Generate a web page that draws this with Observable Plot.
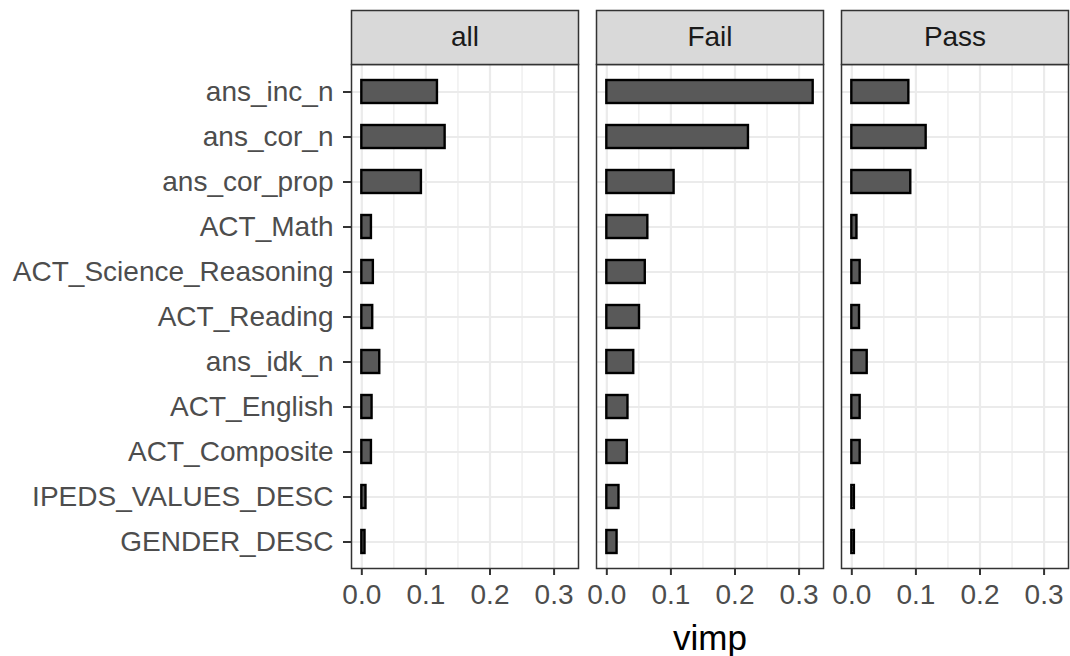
<!DOCTYPE html>
<html>
<head>
<meta charset="utf-8">
<script src="https://cdn.jsdelivr.net/npm/d3@7"></script>
<script src="https://cdn.jsdelivr.net/npm/@observablehq/plot@0.6"></script>
<style>
  html, body { margin: 0; padding: 0; background: #fff; }
  #chart { width: 1070px; height: 656px; }
  svg { font-family: "Liberation Sans", Arial, Helvetica, sans-serif; }
</style>
</head>
<body>
<div id="chart"></div>
<script>
// Data
const features = ["ans_inc_n", "ans_cor_n", "ans_cor_prop", "ACT_Math", "ACT_Science_Reasoning",
  "ACT_Reading", "ans_idk_n", "ACT_English", "ACT_Composite", "IPEDS_VALUES_DESC", "GENDER_DESC"];
const groups = ["all", "Fail", "Pass"];
const vimpAll  = [0.118, 0.130, 0.093, 0.015, 0.018, 0.017, 0.028, 0.016, 0.015, 0.0065, 0.005];
const vimpFail = [0.322, 0.221, 0.105, 0.064, 0.060, 0.051, 0.042, 0.033, 0.032, 0.019, 0.016];
const vimpPass = [0.089, 0.116, 0.092, 0.008, 0.013, 0.012, 0.024, 0.013, 0.013, 0.004, 0.004];
const xTicks = [0, 0.1, 0.2, 0.3];
const xMinorTicks = [0.05, 0.15, 0.25];
const xLabel = "vimp";

const series = {all: vimpAll, Fail: vimpFail, Pass: vimpPass};
const rows = [];
for (const g of groups) features.forEach((f, i) => rows.push({group: g, feature: f, value: series[g][i]}));

const maxV = d3.max(rows, d => d.value);
const xDomain = [-0.05 * maxV, 1.05 * maxV];

const W = 1070, H = 656, mTop = 64, mBottom = 88;
const plotH = H - mTop - mBottom;

const chart = Plot.plot({
  width: W,
  height: H,
  marginLeft: 351,
  marginRight: 2,
  marginTop: mTop,
  marginBottom: mBottom,
  style: {fontFamily: '"Liberation Sans", Arial, Helvetica, sans-serif', background: "#fff"},
  fx: {domain: groups, paddingInner: 0.0735, paddingOuter: 0, axis: null, label: null},
  x: {domain: xDomain, label: null},
  y: {domain: features, paddingInner: 0.5, paddingOuter: 0.35, label: null},
  marks: [
    Plot.gridX({ticks: xMinorTicks, stroke: "#EBEBEB", strokeOpacity: 1, strokeWidth: 1.2}),
    Plot.gridX({ticks: xTicks, stroke: "#EBEBEB", strokeOpacity: 1, strokeWidth: 2.2}),
    Plot.gridY({stroke: "#EBEBEB", strokeOpacity: 1, strokeWidth: 2.2}),
    Plot.barX(rows, {fx: "group", y: "feature", x1: 0, x2: "value", fill: "#595959", stroke: "#000", strokeWidth: 2.4}),
    Plot.frame({stroke: "#333333", strokeWidth: 1.5}),
    Plot.frame({fill: "#D9D9D9", stroke: "#333333", strokeWidth: 1.5, insetTop: -54, insetBottom: plotH}),
    Plot.text(groups, {fx: d => d, text: d => d, frameAnchor: "top", dy: -27, lineAnchor: "middle",
      fontSize: 28, fill: "#1A1A1A"}),
    Plot.axisX({ticks: xTicks, tickFormat: d3.format(".1f"), tickSize: 7, tickPadding: 9,
      fontSize: 28, fill: "#4D4D4D", stroke: "#333333", strokeWidth: 2, label: null}),
    Plot.axisY({tickSize: 8, tickPadding: 10, fontSize: 28, fill: "#4D4D4D", stroke: "#333333",
      strokeWidth: 2, label: null}),
    Plot.text([{group: "Fail", t: xLabel}], {fx: "group", text: "t", frameAnchor: "bottom", dy: 70,
      lineAnchor: "middle", fontSize: 35, fill: "#000"})
  ]
});
document.getElementById("chart").appendChild(chart);
</script>
</body>
</html>
